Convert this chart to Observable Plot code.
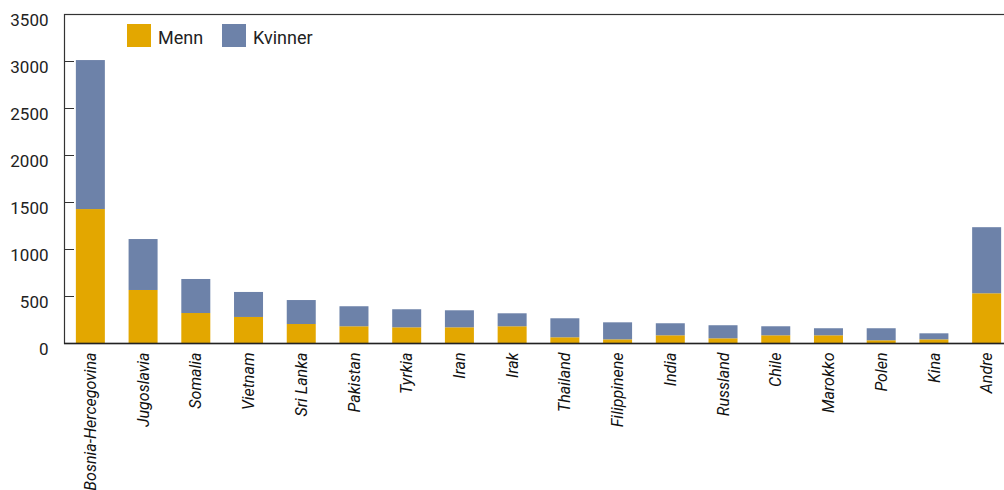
<!DOCTYPE html>
<html>
<head>
<meta charset="utf-8">
<script src="https://cdn.jsdelivr.net/npm/d3@7"></script>
<script src="https://cdn.jsdelivr.net/npm/@observablehq/plot@0.6"></script>
<style>
  html, body { margin: 0; padding: 0; background: #fff; overflow: hidden; }
  #wrap { position: relative; width: 1004px; height: 490px; overflow: hidden; font-family: Roboto, "DejaVu Sans", sans-serif; }
  #wrap svg { max-width: none !important; display: block; }
  .legend { position: absolute; top: 24px; display: flex; align-items: center; font-size: 18px; color: #222; }
  .sw { width: 24px; height: 23px; margin-right: 7px; }
  .legend span { position: relative; top: 2px; }
</style>
</head>
<body>
<div id="wrap"></div>
<script>
const countries = ["Bosnia-Hercegovina","Jugoslavia","Somalia","Vietnam","Sri Lanka","Pakistan","Tyrkia","Iran","Irak","Thailand","Filippinene","India","Russland","Chile","Marokko","Polen","Kina","Andre"];
const menn    = [1425, 564, 319, 277, 202, 178, 167, 167, 178, 61, 39, 82, 50, 82, 82, 29, 39, 529];
const kvinner = [1585, 542, 362, 266, 255, 213, 192, 181, 138, 202, 181, 128, 139, 96, 75, 128, 64, 703];
const seriesNames = ["Menn", "Kvinner"];
const seriesColors = ["#e3a700", "#6d82a9"];
const yTicks = [0, 500, 1000, 1500, 2000, 2500, 3000, 3500];

const data = [];
countries.forEach((c, i) => {
  data.push({country: c, series: "Menn", value: menn[i]});
  data.push({country: c, series: "Kvinner", value: kvinner[i]});
});

const chart = Plot.plot({
  width: 1013,
  height: 490,
  marginLeft: 64,
  marginRight: 0,
  marginTop: 14,
  marginBottom: 147,
  style: {fontFamily: "Roboto, 'DejaVu Sans', sans-serif", background: "#fff", maxWidth: "none"},
  x: {domain: countries, paddingInner: 0.45, paddingOuter: 0.225, round: false, label: null},
  y: {domain: [0, 3500], label: null},
  color: {domain: seriesNames, range: seriesColors},
  marks: [
    Plot.barY(data, Plot.stackY({x: "country", y: "value", fill: "series", order: seriesNames})),
    Plot.axisY({ticks: yTicks, tickFormat: () => "", tickSize: -10, stroke: "#333", label: null}),
    Plot.axisY({ticks: yTicks, tickFormat: d => String(d), tickSize: 0, tickPadding: 16, dy: 6, fontSize: 17, color: "#222", label: null}),
    Plot.axisX({tickSize: 0, tickPadding: 9, tickRotate: -90, fontSize: 16, color: "#111", label: null}),
    Plot.frame({stroke: "#333", strokeWidth: 1.2}),
    Plot.ruleY([0], {stroke: "#222", strokeWidth: 1.5})
  ]
});

const wrap = document.getElementById("wrap");
wrap.appendChild(chart);
chart.style.maxWidth = "none";
chart.querySelectorAll("g[aria-label='x-axis tick label']").forEach(g => { g.setAttribute("font-size", 16); g.setAttribute("font-style", "italic"); });
chart.querySelectorAll("g[aria-label='y-axis tick label']").forEach(g => g.setAttribute("font-size", 17));

seriesNames.forEach((s, i) => {
  const d = document.createElement("div");
  d.className = "legend";
  d.style.left = (i === 0 ? 127 : 222) + "px";
  d.innerHTML = `<div class="sw" style="background:${seriesColors[i]}"></div><span>${s}</span>`;
  wrap.appendChild(d);
});
</script>
</body>
</html>
